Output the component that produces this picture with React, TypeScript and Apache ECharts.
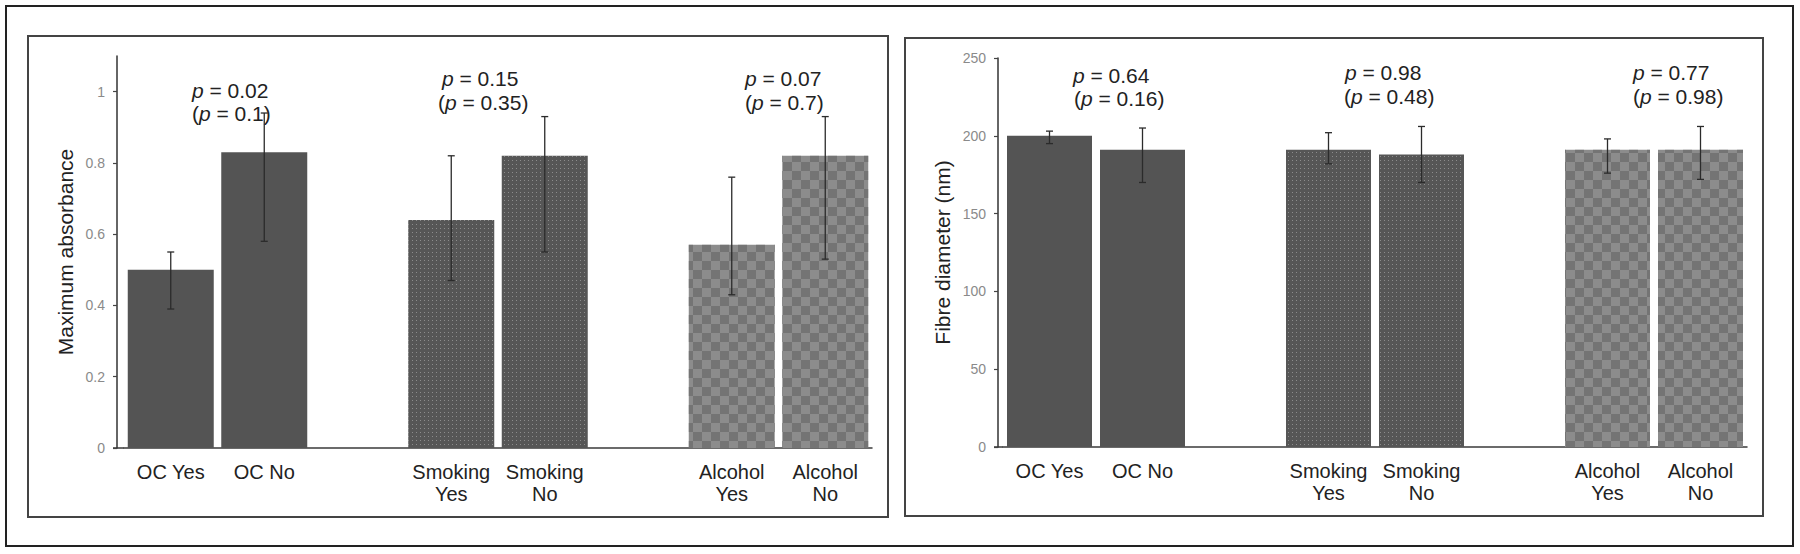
import React, { useEffect, useRef } from 'react';
import * as echarts from 'echarts';

// ---------- data ----------
const categories = ['OC Yes', 'OC No', '', 'Smoking\nYes', 'Smoking\nNo', '', 'Alcohol\nYes', 'Alcohol\nNo'];
const groupOf = ['oc', 'oc', null, 'smoking', 'smoking', null, 'alcohol', 'alcohol'];

const absorbanceMean = [0.5, 0.83, null, 0.64, 0.82, null, 0.57, 0.82];
const absorbanceLow = [0.39, 0.58, null, 0.47, 0.55, null, 0.43, 0.53];
const absorbanceHigh = [0.55, 0.94, null, 0.82, 0.93, null, 0.76, 0.93];
const absorbanceTicks = [0, 0.2, 0.4, 0.6, 0.8, 1];

const diameterMean = [200, 191, null, 191, 188, null, 191, 191];
const diameterLow = [195, 170, null, 182, 170, null, 176, 172];
const diameterHigh = [203, 205, null, 202, 206, null, 198, 206];
const diameterTicks = [0, 50, 100, 150, 200, 250];

const absorbanceP = [['0.02', '0.1'], ['0.15', '0.35'], ['0.07', '0.7']];
const diameterP = [['0.64', '0.16'], ['0.98', '0.48'], ['0.77', '0.98']];

// ---------- styles ----------
const font = "'Liberation Sans', Arial, Helvetica, sans-serif";
const groups = ['oc', 'smoking', 'alcohol'];
const barColors: Record<string, string> = { oc: '#545454', smoking: '#565656', alcohol: '#8c8c8c' };
const decals: Record<string, any> = {
  smoking: {
    symbol: 'rect', symbolSize: 1, color: 'rgba(230,230,230,0.38)',
    dashArrayX: [1, 3], dashArrayY: [1, 3], rotation: 0,
  },
  alcohol: {
    symbol: 'rect', symbolSize: 1, color: 'rgba(100,100,100,0.6)',
    dashArrayX: [[9, 9], [0, 9, 9, 0]], dashArrayY: [9, 0], rotation: 0,
  },
};

function barSeries(idx: number, mean: (number | null)[], width: number) {
  return groups.map((g) => ({
    type: 'bar',
    xAxisIndex: idx,
    yAxisIndex: idx,
    data: mean.map((v, i) => (groupOf[i] === g ? v : null)),
    barWidth: width,
    barGap: '-100%',
    silent: true,
    z: 2,
    itemStyle: decals[g] ? { color: barColors[g], decal: decals[g] } : { color: barColors[g] },
  }));
}

function errSeries(idx: number, low: (number | null)[], high: (number | null)[]) {
  const data: number[][] = [];
  low.forEach((l, i) => {
    if (l != null && high[i] != null) data.push([i, l, high[i] as number]);
  });
  return {
    type: 'custom',
    xAxisIndex: idx,
    yAxisIndex: idx,
    data,
    encode: { x: 0, y: [1, 2] },
    z: 5,
    silent: true,
    renderItem: (params: any, api: any) => {
      const x = api.value(0);
      const lo = api.coord([x, api.value(1)]);
      const hi = api.coord([x, api.value(2)]);
      const cap = 3.5;
      const style = { stroke: '#2b2b2b', lineWidth: 1.3 };
      return {
        type: 'group',
        children: [
          { type: 'line', shape: { x1: lo[0], y1: lo[1], x2: hi[0], y2: hi[1] }, style },
          { type: 'line', shape: { x1: hi[0] - cap, y1: hi[1], x2: hi[0] + cap, y2: hi[1] }, style },
          { type: 'line', shape: { x1: lo[0] - cap, y1: lo[1], x2: lo[0] + cap, y2: lo[1] }, style },
        ],
      };
    },
  };
}

function pText(x: number, y: number, prefix: string, val: string, suffix: string) {
  return {
    type: 'text',
    x,
    y,
    silent: true,
    style: {
      text: `${prefix}{i|p} = ${val}${suffix}`,
      rich: { i: { fontStyle: 'italic', fontSize: 21, fontFamily: font, fill: '#222' } },
      fontSize: 21,
      fontFamily: font,
      fill: '#222',
      verticalAlign: 'middle',
      align: 'left',
    },
  };
}

// annotation anchor positions (layout): [line1 x, line1 y, line2 x, line2 y]
const absorbancePPos = [[192, 90, 192, 113], [442, 78, 438, 102], [745, 78, 745, 102]];
const diameterPPos = [[1073, 75, 1074, 98], [1345, 72, 1344, 96], [1633, 72, 1633, 96]];

function xAxisDef(idx: number) {
  return {
    type: 'category',
    gridIndex: idx,
    data: categories,
    boundaryGap: true,
    axisLine: { show: true, lineStyle: { color: '#3a3a3a', width: 1.5 } },
    axisTick: { show: false },
    splitLine: { show: false },
    axisLabel: { interval: 0, margin: 13, fontSize: 20, lineHeight: 22, color: '#222', fontFamily: font },
  };
}

function yAxisDef(idx: number, max: number, ticks: number[], offset: number, name: string, gap: number) {
  return {
    type: 'value',
    gridIndex: idx,
    min: 0,
    max,
    offset,
    splitLine: { show: false },
    axisLine: { show: true, lineStyle: { color: '#333', width: 1.5 } },
    axisTick: { show: true, length: 4, customValues: ticks, lineStyle: { color: '#444', width: 1.2 } },
    axisLabel: { customValues: ticks, fontSize: 14, color: '#8a8a8a', margin: 12, fontFamily: font },
    name,
    nameLocation: 'middle',
    nameRotate: 90,
    nameGap: gap,
    nameTextStyle: { fontSize: 21, color: '#222', fontFamily: font },
  };
}

export default function App() {
  const ref = useRef<HTMLDivElement>(null);
  useEffect(() => {
    if (!ref.current) return;
    const chart = echarts.init(ref.current, null, { renderer: 'svg' });
    const graphics: any[] = [
      { type: 'rect', shape: { x: 6, y: 6, width: 1787, height: 540 }, style: { fill: 'none', stroke: '#222', lineWidth: 2 }, silent: true },
      { type: 'rect', shape: { x: 28, y: 36, width: 860, height: 481 }, style: { fill: 'none', stroke: '#444', lineWidth: 2 }, silent: true },
      { type: 'rect', shape: { x: 905, y: 38, width: 858, height: 478 }, style: { fill: 'none', stroke: '#444', lineWidth: 2 }, silent: true },
      { type: 'line', shape: { x1: 113, y1: 448, x2: 124, y2: 448 }, style: { stroke: '#3a3a3a', lineWidth: 1.5 }, silent: true },
      { type: 'line', shape: { x1: 994, y1: 447, x2: 1003, y2: 447 }, style: { stroke: '#3a3a3a', lineWidth: 1.5 }, silent: true },
    ];
    absorbanceP.forEach((p, i) => {
      const pos = absorbancePPos[i];
      graphics.push(pText(pos[0], pos[1], '', p[0], ''));
      graphics.push(pText(pos[2], pos[3], '(', p[1], ')'));
    });
    diameterP.forEach((p, i) => {
      const pos = diameterPPos[i];
      graphics.push(pText(pos[0], pos[1], '', p[0], ''));
      graphics.push(pText(pos[2], pos[3], '(', p[1], ')'));
    });

    chart.setOption({
      animation: false,
      backgroundColor: '#fff',
      grid: [
        { left: 124, top: 56, width: 748, height: 392 },
        { left: 1003, top: 58, width: 744, height: 389 },
      ],
      xAxis: [xAxisDef(0), xAxisDef(1)],
      yAxis: [
        yAxisDef(0, 1.1, absorbanceTicks, 7, 'Maximum absorbance', 41),
        yAxisDef(1, 250, diameterTicks, 5, 'Fibre diameter (nm)', 45),
      ],
      series: [
        ...barSeries(0, absorbanceMean, 86),
        errSeries(0, absorbanceLow, absorbanceHigh),
        ...barSeries(1, diameterMean, 85),
        errSeries(1, diameterLow, diameterHigh),
      ],
      graphic: graphics,
    });
    return () => chart.dispose();
  }, []);
  return (
    <div
      ref={ref}
      style={{ position: 'absolute', left: 0, top: 0, width: 1800, height: 554, background: '#fff' }}
    />
  );
}
